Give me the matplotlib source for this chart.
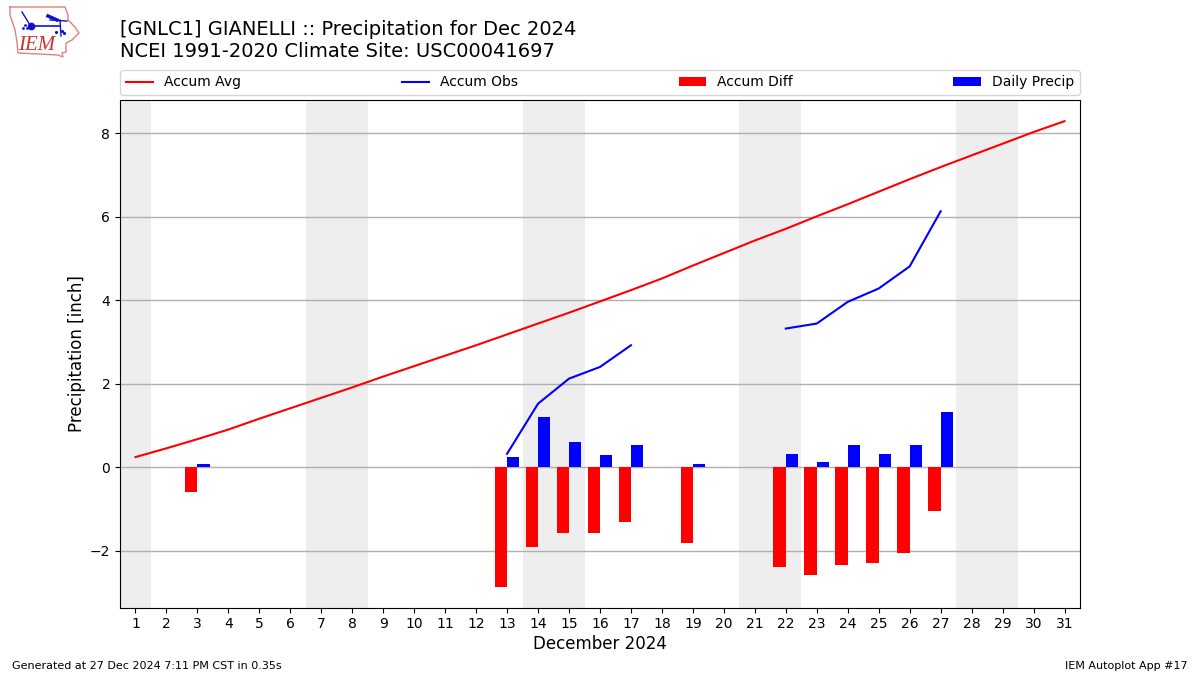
import matplotlib
matplotlib.use("Agg")
import matplotlib.pyplot as plt
import numpy as np

days = list(range(1, 32))
accum_avg = [0.24, 0.45, 0.67, 0.90, 1.16, 1.41, 1.66, 1.91, 2.17, 2.42, 2.67,
             2.92, 3.18, 3.44, 3.70, 3.97, 4.24, 4.52, 4.83, 5.13, 5.43, 5.71,
             6.01, 6.30, 6.60, 6.90, 7.19, 7.47, 7.75, 8.03, 8.29]
nan = np.nan
accum_obs = [nan, nan, nan, nan, nan, nan, nan, nan, nan, nan, nan, nan,
             0.32, 1.52, 2.12, 2.40, 2.92, nan, nan, nan, nan,
             3.32, 3.44, 3.96, 4.28, 4.81, 6.13, nan, nan, nan, nan]
diff_days = [3, 13, 14, 15, 16, 17, 19, 22, 23, 24, 25, 26, 27]
accum_diff = [-0.59, -2.87, -1.91, -1.57, -1.57, -1.31, -1.81,
              -2.39, -2.58, -2.34, -2.31, -2.07, -1.05]
daily_precip = [0.08, 0.25, 1.20, 0.60, 0.29, 0.53, 0.07,
                0.32, 0.12, 0.53, 0.32, 0.53, 1.32]
weekends = [(0.5, 1.5), (6.5, 8.5), (13.5, 15.5), (20.5, 22.5), (27.5, 29.5)]

fig = plt.figure(figsize=(12, 6.75), dpi=100)
ax = fig.add_axes([0.1, 0.1, 0.8, 0.752])

for start, end in weekends:
    ax.axvspan(start, end, color="#eeeeee", lw=0, zorder=0)

ax.plot(days, accum_avg, color="r", lw=1.5, label="Accum Avg", zorder=3)
ax.plot(days, accum_obs, color="b", lw=1.5, label="Accum Obs", zorder=3)
ax.bar(diff_days, accum_diff, width=-0.4, align="edge", color="r", label="Accum Diff", zorder=3)
ax.bar(diff_days, daily_precip, width=0.4, align="edge", color="b", label="Daily Precip", zorder=3)

ax.set_xlim(0.5, 31.5)
ax.set_ylim(-3.365, 8.80)
ax.set_xticks(days)
ax.set_yticks([-2, 0, 2, 4, 6, 8])
ax.set_yticklabels(["\u22122", "0", "2", "4", "6", "8"])
ax.grid(True, axis="y", color="#b0b0b0", lw=1, zorder=1)
ax.set_axisbelow(True)
ax.set_xlabel("December 2024", fontsize=12, labelpad=3)
ax.set_ylabel("Precipitation [inch]", fontsize=12, labelpad=3)
ax.legend(loc="lower left", bbox_to_anchor=(0, 1.0098, 1, 0.05), ncol=4, mode="expand",
          borderaxespad=0, fontsize=10)

fig.text(120 / 1200, 1 - 61 / 675, "[GNLC1] GIANELLI :: Precipitation for Dec 2024\n"
         "NCEI 1991-2020 Climate Site: USC00041697", fontsize=14, ha="left", va="bottom")
fig.text(12 / 1200, 1 - 666 / 675, "Generated at 27 Dec 2024 7:11 PM CST in 0.35s",
         fontsize=8, ha="left", va="center")
fig.text(1188 / 1200, 1 - 666 / 675, "IEM Autoplot App #17", fontsize=8, ha="right", va="center")

# rough redraw of the IEM logo, in pixels
logo = fig.add_axes([0, 1 - 60 / 675, 84 / 1200, 60 / 675])
logo.set_xlim(0, 84)
logo.set_ylim(60, 0)
logo.axis("off")
outline_x = [10, 65, 68, 68, 75, 79, 72, 66, 66, 62, 63, 58, 18, 17, 15, 10, 10]
outline_y = [7, 7, 15, 20, 27, 33, 40, 43, 52, 53, 57, 55, 53, 42, 30, 15, 7]
logo.plot(outline_x, outline_y, color="#e08080", lw=1)
logo.plot([31, 60], [26, 26], color="#1010d0", lw=1.2)
logo.plot([30, 22], [25, 12], color="#1010d0", lw=1)
logo.plot([60, 61], [20, 36], color="#1010d0", lw=1)
logo.plot([50, 67], [20, 21], color="#1010d0", lw=1)
logo.plot([48, 57], [16, 20], color="#1010d0", lw=2.5)
logo.plot([31], [26], "o", color="#1010d0", ms=4.5)
logo.plot([23, 25, 27], [28, 25, 28], ".", color="#1010d0", ms=2)
logo.plot([56, 62, 64], [32, 31, 33], ".", color="#1010d0", ms=2.5)
logo.text(37, 46, "IEM", color="#d03030", fontsize=15, family="Liberation Serif",
          style="italic", ha="center", va="center")

fig.savefig("out.png", dpi=100)
